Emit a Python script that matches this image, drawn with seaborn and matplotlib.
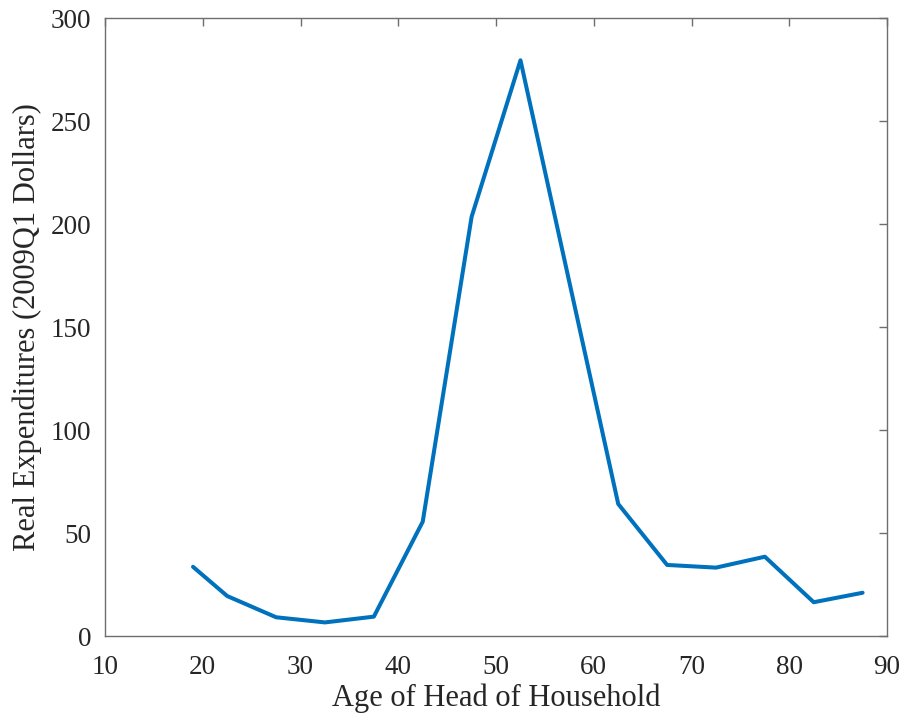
import matplotlib
matplotlib.use("Agg")
import matplotlib.pyplot as plt
import seaborn as sns
import pandas as pd

# Average real expenditures by age of household head
ages = [19.0, 22.5, 27.5, 32.5, 37.5, 42.5, 47.5, 52.5, 62.5, 67.5, 72.5, 77.5, 82.5, 87.5]
spending = [33.6, 19.4, 9.1, 6.6, 9.4, 55.5, 203.5, 279.5, 64.1, 34.5, 33.2, 38.5, 16.4, 21.0]

x_ticks = [10, 20, 30, 40, 50, 60, 70, 80, 90]
y_ticks = [0, 50, 100, 150, 200, 250, 300]

df = pd.DataFrame({"age": ages, "spending": spending})

sns.set_style("white")
plt.rcParams["font.family"] = ["Liberation Serif", "DejaVu Serif"]

edge = "#6e6e6e"
text = "#262626"

fig = plt.figure(figsize=(9.07, 7.22), dpi=100)
ax = fig.add_axes([0.1158, 0.1191, 0.978 - 0.1158, 0.975 - 0.1191])

sns.lineplot(data=df, x="age", y="spending", ax=ax, color="#0072BD",
             linewidth=2.9, sort=False)

ax.set_xlim(10, 90)
ax.set_ylim(0, 300)
ax.set_xticks(x_ticks)
ax.set_yticks(y_ticks)
ax.set_xlabel("Age of Head of Household", fontsize=22, color=text, labelpad=2)
ax.set_ylabel("Real Expenditures (2009Q1 Dollars)", fontsize=22, color=text, labelpad=6)

ax.tick_params(direction="in", length=6, width=1, colors=edge, labelcolor=text,
               labelsize=19.5, top=True, right=True)
ax.tick_params(axis="x", pad=14)
ax.tick_params(axis="y", pad=10)
for side in ax.spines.values():
    side.set_visible(True)
    side.set_color(edge)
    side.set_linewidth(1.0)
ax.grid(False)

fig.savefig("out.png", dpi=100)
